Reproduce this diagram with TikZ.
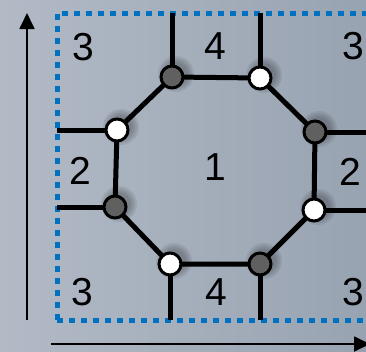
\documentclass[tikz,border=0pt]{standalone}
\usepackage{fontspec}
\setmainfont{Liberation Sans}
\usetikzlibrary{arrows.meta}
\definecolor{bgL}{RGB}{178,186,198}
\definecolor{bgR}{RGB}{152,163,177}
\definecolor{dashblue}{RGB}{0,112,192}
\definecolor{dotgray}{RGB}{96,96,96}
\tikzset{
  edge/.style={line width=5pt},
  axis/.style={line width=1.8pt,-{Triangle[length=16pt,width=15pt]}},
  vw/.style={circle,draw=black,line width=3pt,fill=white,minimum size=22pt,inner sep=0pt},
  vg/.style={vw,fill=dotgray},
  lbl/.style={inner sep=0pt,font=\fontsize{39}{40}\selectfont},
  frame/.style={draw=dashblue,line width=5pt,dash pattern=on 6pt off 6pt}
}
\begin{document}
\begin{tikzpicture}[x=1pt,y=-1pt]
\useasboundingbox (0,0) rectangle (366,351);
\shade[left color=bgL,right color=bgR] (0,0) rectangle (366,351);
% frame
\draw[frame] (57,320) -- (57,13) -- (372,13);
\draw[frame] (57,320) -- (372,320);
% axes
\coordinate (ya) at (27,320);
\coordinate (yb) at (27,13);
\coordinate (xa) at (51,344);
\coordinate (xb) at (370,344);
\draw[axis] (ya) -- (yb);
\draw[axis] (xa) -- (xb);
% vertices
\coordinate (TL) at (172,77);
\coordinate (TR) at (260,78);
\coordinate (RT) at (315,132);
\coordinate (RB) at (314,210);
\coordinate (BR) at (260,264);
\coordinate (BL) at (170,264);
\coordinate (LB) at (115,207);
\coordinate (LT) at (117,130);
% outer ends
\coordinate (eTL) at (172,13);
\coordinate (eTR) at (260,13);
\coordinate (eRT) at (366,132);
\coordinate (eRB) at (366,210);
\coordinate (eBR) at (260,320);
\coordinate (eBL) at (170,320);
\coordinate (eLB) at (57,207);
\coordinate (eLT) at (57,130);
\draw[edge] (TL) -- (TR) -- (RT) -- (RB) -- (BR) -- (BL) -- (LB) -- (LT) -- cycle;
\foreach \a in {TL,TR,RT,RB,BR,BL,LB,LT}{
  \draw[edge] (\a) -- (e\a);
}
% shadows
\foreach \a in {TL,TR,RT,RB,BR,BL,LB,LT}{
  \foreach \r in {18,16,14,12}{
    \fill[black,opacity=0.07] ([shift={(4,-3)}]\a) circle (\r);
  }
}
\node[vg] (nTL) at (TL) {};
\node[vw] (nTR) at (TR) {};
\node[vg] (nRT) at (RT) {};
\node[vw] (nRB) at (RB) {};
\node[vg] (nBR) at (BR) {};
\node[vw] (nBL) at (BL) {};
\node[vg] (nLB) at (LB) {};
\node[vw] (nLT) at (LT) {};
% labels
\node[lbl] (l1) at (215,167) {1};
\node[lbl] (l3a) at (83,47) {3};
\node[lbl] (l4a) at (215,46) {4};
\node[lbl] (l3b) at (353,46) {3};
\node[lbl] (l2a) at (80,171) {2};
\node[lbl] (l2b) at (350,172) {2};
\node[lbl] (l3c) at (82,292) {3};
\node[lbl] (l4b) at (216,292) {4};
\node[lbl] (l3d) at (353,292) {3};
\end{tikzpicture}
\end{document}
